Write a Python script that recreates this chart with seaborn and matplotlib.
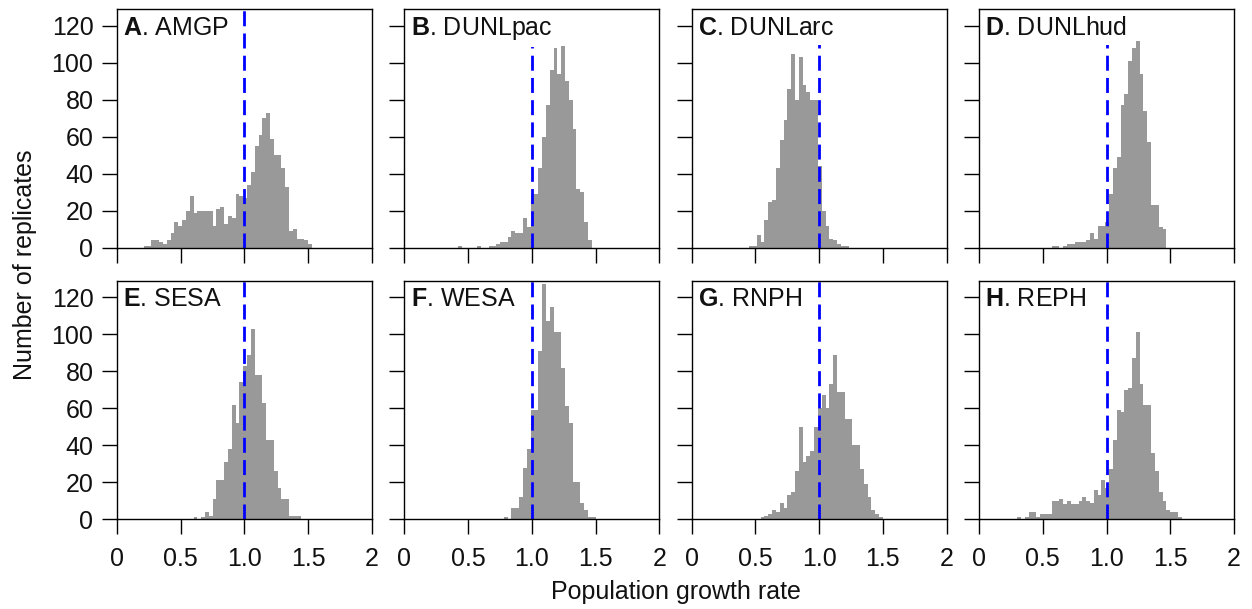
import matplotlib
matplotlib.use("Agg")
import matplotlib.pyplot as plt
import numpy as np
import pandas as pd
import seaborn as sns

# histogram bins are 0.03 wide; each panel starts at its own left edge
BIN_WIDTH = 0.03

PANELS = ["A", "B", "C", "D", "E", "F", "G", "H"]
SPECIES = ["AMGP", "DUNLpac", "DUNLarc", "DUNLhud", "SESA", "WESA", "RNPH", "REPH"]

AMGP_START = 0.21
AMGP_COUNTS = [1, 1, 4, 4, 3, 2, 4, 8, 14, 12, 15, 20, 28, 19, 20, 20, 20, 20, 12, 21,
               22, 13, 17, 16, 29, 28, 27, 34, 41, 55, 61, 70, 73, 59, 50, 50, 43, 33, 9, 10,
               5, 5, 4, 2]
DUNLPAC_START = 0.42
DUNLPAC_COUNTS = [1, 0, 0, 0, 0, 1, 0, 0, 1, 1, 2, 3, 3, 6, 9, 8, 8, 16, 11, 29,
                  29, 43, 60, 77, 96, 108, 94, 109, 90, 80, 64, 32, 30, 14, 4]
DUNLARC_START = 0.45
DUNLARC_COUNTS = [1, 1, 7, 3, 15, 25, 26, 43, 58, 69, 86, 105, 80, 103, 88, 84, 80, 80, 44, 20,
                  12, 5, 4, 2, 1, 1]
DUNLHUD_START = 0.57
DUNLHUD_COUNTS = [1, 1, 0, 1, 2, 2, 3, 3, 3, 4, 8, 5, 12, 12, 14, 29, 43, 49, 77, 83,
                  101, 108, 112, 94, 74, 57, 23, 23, 11, 10]
SESA_START = 0.60
SESA_COUNTS = [1, 0, 1, 4, 2, 11, 21, 21, 31, 38, 62, 52, 74, 83, 89, 103, 78, 78, 63, 43,
               43, 26, 17, 11, 11, 2, 2, 2]
WESA_START = 0.78
WESA_COUNTS = [1, 0, 6, 6, 12, 28, 38, 59, 59, 91, 127, 107, 115, 101, 101, 82, 61, 52, 20, 20,
               9, 5, 1, 1]
RNPH_START = 0.54
RNPH_COUNTS = [1, 2, 3, 5, 4, 9, 6, 13, 15, 26, 50, 31, 34, 37, 50, 60, 67, 60, 73, 89,
               69, 69, 54, 54, 40, 40, 27, 19, 12, 5, 3, 1]
REPH_START = 0.30
REPH_COUNTS = [1, 0, 1, 4, 4, 1, 3, 3, 3, 10, 10, 11, 8, 10, 8, 8, 10, 12, 10, 9,
               16, 13, 21, 17, 27, 43, 59, 58, 70, 71, 87, 101, 73, 62, 62, 36, 26, 15, 10, 5,
               4, 4, 1]

STARTS = [AMGP_START, DUNLPAC_START, DUNLARC_START, DUNLHUD_START,
          SESA_START, WESA_START, RNPH_START, REPH_START]
COUNTS = [AMGP_COUNTS, DUNLPAC_COUNTS, DUNLARC_COUNTS, DUNLHUD_COUNTS,
          SESA_COUNTS, WESA_COUNTS, RNPH_COUNTS, REPH_COUNTS]

X_TICKS = [0, 0.5, 1.0, 1.5, 2]
X_TICK_LABELS = ["0", "0.5", "1.0", "1.5", "2"]
Y_TICKS = [0, 20, 40, 60, 80, 100, 120]
REFERENCE_RATE = 1.0

BAR_COLOR = "#999999"
LINE_COLOR = "#0000ff"
TEXT_COLOR = "#111111"
FONT_SIZE = 18

sns.set_theme(style="white")
plt.rcParams["font.family"] = ["Liberation Sans", "DejaVu Sans"]
plt.rcParams["mathtext.fontset"] = "custom"
plt.rcParams["mathtext.rm"] = "Liberation Sans"
plt.rcParams["mathtext.bf"] = "Liberation Sans:bold"


def draw_panel(ax, letter, name, start, counts, show_x, show_y):
    edges = np.round(start + BIN_WIDTH * np.arange(len(counts) + 1), 4)
    df = pd.DataFrame({"rate": edges[:-1] + BIN_WIDTH / 2, "count": counts})

    sns.histplot(data=df, x="rate", weights="count", bins=edges.tolist(), ax=ax,
                 element="step", fill=True, color=BAR_COLOR, alpha=1, linewidth=0)
    ax.axvline(REFERENCE_RATE, color=LINE_COLOR, lw=2.0, dashes=(5.4, 2.6), zorder=3)

    ax.set_xlim(0, 2)
    ax.set_ylim(0, 129)
    ax.set_xticks(X_TICKS)
    ax.set_yticks(Y_TICKS)
    ax.set_xticklabels(X_TICK_LABELS if show_x else [])
    ax.set_yticklabels([str(v) for v in Y_TICKS] if show_y else [])
    ax.set_xlabel("")
    ax.set_ylabel("")
    ax.tick_params(bottom=True, left=True, direction="out", length=11, width=1,
                   color="black", labelsize=FONT_SIZE, labelcolor=TEXT_COLOR)
    ax.tick_params(axis="x", pad=9)
    ax.tick_params(axis="y", pad=6)
    for spine in ax.spines.values():
        spine.set_visible(True)
        spine.set_color("black")
        spine.set_linewidth(1.0)
        spine.set_zorder(5)

    # label sits on a white patch, which hides the top of the dashed line where they meet
    ax.text(0.024, 0.892, rf"$\mathbf{{{letter}}}$. {name} ", transform=ax.transAxes,
            fontsize=FONT_SIZE, color=TEXT_COLOR, ha="left", va="baseline", zorder=4,
            bbox=dict(boxstyle="square,pad=0.2", facecolor="white", edgecolor="none"))


fig, axes = plt.subplots(2, 4, figsize=(12.52, 6.09), dpi=100)
fig.subplots_adjust(left=0.0935, right=0.9856, top=0.985, bottom=0.1473,
                    wspace=0.1275, hspace=0.138)

for i, ax in enumerate(axes.flat):
    draw_panel(ax, PANELS[i], SPECIES[i], STARTS[i], COUNTS[i],
               show_x=i >= 4, show_y=i % 4 == 0)

fig.text(0.02, 0.5657, "Number of replicates", rotation=90, ha="center", va="center",
         fontsize=FONT_SIZE, color=TEXT_COLOR)
fig.text(0.5395, 0.028, "Population growth rate", ha="center", va="center",
         fontsize=FONT_SIZE, color=TEXT_COLOR)

fig.savefig("out.png", dpi=100)
plt.close(fig)
